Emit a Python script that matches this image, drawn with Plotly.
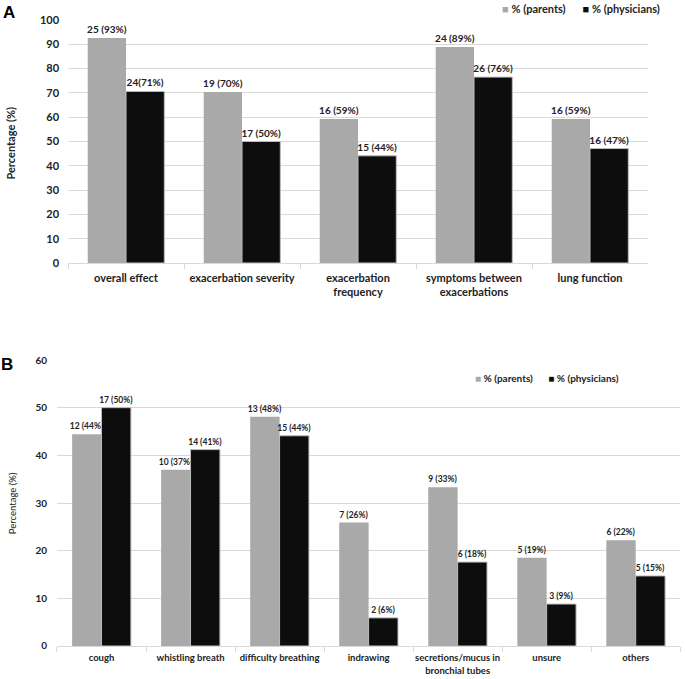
import plotly.graph_objects as go

# Panel A data
cats_a = ["overall effect", "exacerbation severity", "exacerbation<br>frequency",
          "symptoms between<br>exacerbations", "lung function"]
parents_a = [92.6, 70.4, 59.3, 88.9, 59.3]
physicians_a = [70.6, 50.0, 44.1, 76.5, 47.1]
parents_a_lbl = ["25 (93%)", "19 (70%)", "16 (59%)", "24 (89%)", "16 (59%)"]
physicians_a_lbl = ["24(71%)", "17 (50%)", "15 (44%)", "26 (76%)", "16 (47%)"]

# Panel B data
cats_b = ["cough", "whistling breath", "difficulty breathing", "indrawing",
          "secretions/mucus in<br>bronchial tubes", "unsure", "others"]
parents_b = [44.4, 37.0, 48.1, 25.9, 33.3, 18.5, 22.2]
physicians_b = [50.0, 41.2, 44.1, 5.9, 17.6, 8.8, 14.7]
parents_b_lbl = ["12 (44%)", "10 (37%)", "13 (48%)", "7 (26%)", "9 (33%)", "5 (19%)", "6 (22%)"]
physicians_b_lbl = ["17 (50%)", "14 (41%)", "15 (44%)", "2 (6%)", "6 (18%)", "3 (9%)", "5 (15%)"]

series_names = ["% (parents)", "% (physicians)"]

FONT = "Lato, Open Sans, Liberation Sans, Arial"
GREY = "#a9a9a9"
BLACK = "#0d0d0d"
GRID = "#d9d9d9"
TXT = "#222222"

fig = go.Figure()

def bold(lst):
    return ["<b>%s</b>" % s for s in lst]

common_bar = dict(textposition="outside", cliponaxis=False, constraintext="none",
                  showlegend=False)

fig.add_trace(go.Bar(x=cats_a, y=parents_a, name=series_names[0], marker_color=GREY,
                     marker_line_width=0, text=bold(parents_a_lbl),
                     textfont=dict(size=10, color=TXT, family=FONT),
                     xaxis="x", yaxis="y", **common_bar))
fig.add_trace(go.Bar(x=cats_a, y=physicians_a, name=series_names[1], marker_color=BLACK,
                     marker_line=dict(width=1, color="#bbbbbb"), text=bold(physicians_a_lbl),
                     textfont=dict(size=10, color=TXT, family=FONT),
                     xaxis="x", yaxis="y", **common_bar))
fig.add_trace(go.Bar(x=cats_b, y=parents_b, name=series_names[0], marker_color=GREY,
                     marker_line_width=0, text=bold(parents_b_lbl),
                     textfont=dict(size=8.5, color=TXT, family=FONT),
                     xaxis="x2", yaxis="y2", **common_bar))
fig.add_trace(go.Bar(x=cats_b, y=physicians_b, name=series_names[1], marker_color=BLACK,
                     marker_line=dict(width=1, color="#bbbbbb"), text=bold(physicians_b_lbl),
                     textfont=dict(size=8.5, color=TXT, family=FONT),
                     xaxis="x2", yaxis="y2", **common_bar))

axis_common = dict(showline=True, linecolor=GRID, linewidth=1, ticks="outside",
                   tickson="boundaries", ticklen=5, tickcolor=GRID, fixedrange=True,
                   tickangle=0, automargin=False)

def legend_text():
    return ("<span style='color:%s'>■</span> <b>%s</b>" % (GREY, series_names[0]) +
            "&nbsp;&nbsp;&nbsp;&nbsp;&nbsp;&nbsp;" +
            "<span style='color:%s'>■</span> <b>%s</b>" % (BLACK, series_names[1]))

fig.update_layout(
    width=685, height=679,
    margin=dict(l=0, r=0, t=0, b=0),
    paper_bgcolor="white", plot_bgcolor="white",
    barmode="group", bargap=0.34, bargroupgap=0,
    font=dict(family=FONT, color=TXT),
    showlegend=False,
    xaxis=dict(domain=[0.0993, 0.946], anchor="y", ticklabelstandoff=5,
               tickvals=cats_a, ticktext=bold(cats_a),
               tickfont=dict(size=11, family=FONT, color=TXT), **axis_common),
    yaxis=dict(domain=[0.6127, 0.9705], anchor="x", range=[0, 100], dtick=10,
               gridcolor=GRID, showline=False, zeroline=False, automargin=False,
               ticklabelstandoff=8, fixedrange=True,
               tickvals=list(range(0, 101, 10)),
               ticktext=["<b>%d</b>" % v for v in range(0, 101, 10)],
               tickfont=dict(size=11, family=FONT, color=TXT)),
    xaxis2=dict(domain=[0.0832, 0.993], anchor="y2", ticklabelstandoff=3,
                tickvals=cats_b, ticktext=bold(cats_b),
                tickfont=dict(size=9.5, family=FONT, color=TXT), **axis_common),
    yaxis2=dict(domain=[0.0486, 0.4698], anchor="x2", range=[0, 60], dtick=10,
                gridcolor=GRID, showline=False, zeroline=False, automargin=False,
                ticklabelstandoff=9, fixedrange=True,
                tickvals=list(range(0, 61, 10)),
                ticktext=["<b>%d</b>" % v for v in range(0, 61, 10)],
                tickfont=dict(size=10, family=FONT, color=TXT)),
    annotations=[
        dict(text="<b>A</b>", x=0.0125, y=0.981, xref="paper", yref="paper",
             xanchor="center", yanchor="middle", showarrow=False,
             font=dict(size=17, family="Liberation Sans, Arial", color="black")),
        dict(text="<b>B</b>", x=0.0105, y=0.4625, xref="paper", yref="paper",
             xanchor="center", yanchor="middle", showarrow=False,
             font=dict(size=17, family="Liberation Sans, Arial", color="black")),
        dict(text="<b>Percentage (%)</b>", x=0.016, y=0.79, xref="paper", yref="paper",
             textangle=-90, showarrow=False, xanchor="center", yanchor="middle",
             font=dict(size=11, family=FONT, color=TXT)),
        dict(text="Percentage (%)", x=0.0175, y=0.259, xref="paper", yref="paper",
             textangle=-90, showarrow=False, xanchor="center", yanchor="middle",
             font=dict(size=9.5, family=FONT, color=TXT)),
        dict(text=legend_text(), x=0.967, y=0.988, xref="paper", yref="paper",
             xanchor="right", yanchor="middle", showarrow=False,
             font=dict(size=11, family=FONT, color=TXT)),
        dict(text=legend_text(), x=0.906, y=0.443, xref="paper", yref="paper",
             xanchor="right", yanchor="middle", showarrow=False,
             font=dict(size=10, family=FONT, color=TXT)),
    ],
)

fig.write_html("out.html", config={"displayModeBar": False, "staticPlot": True},
               post_script="document.body.style.margin='0';")
